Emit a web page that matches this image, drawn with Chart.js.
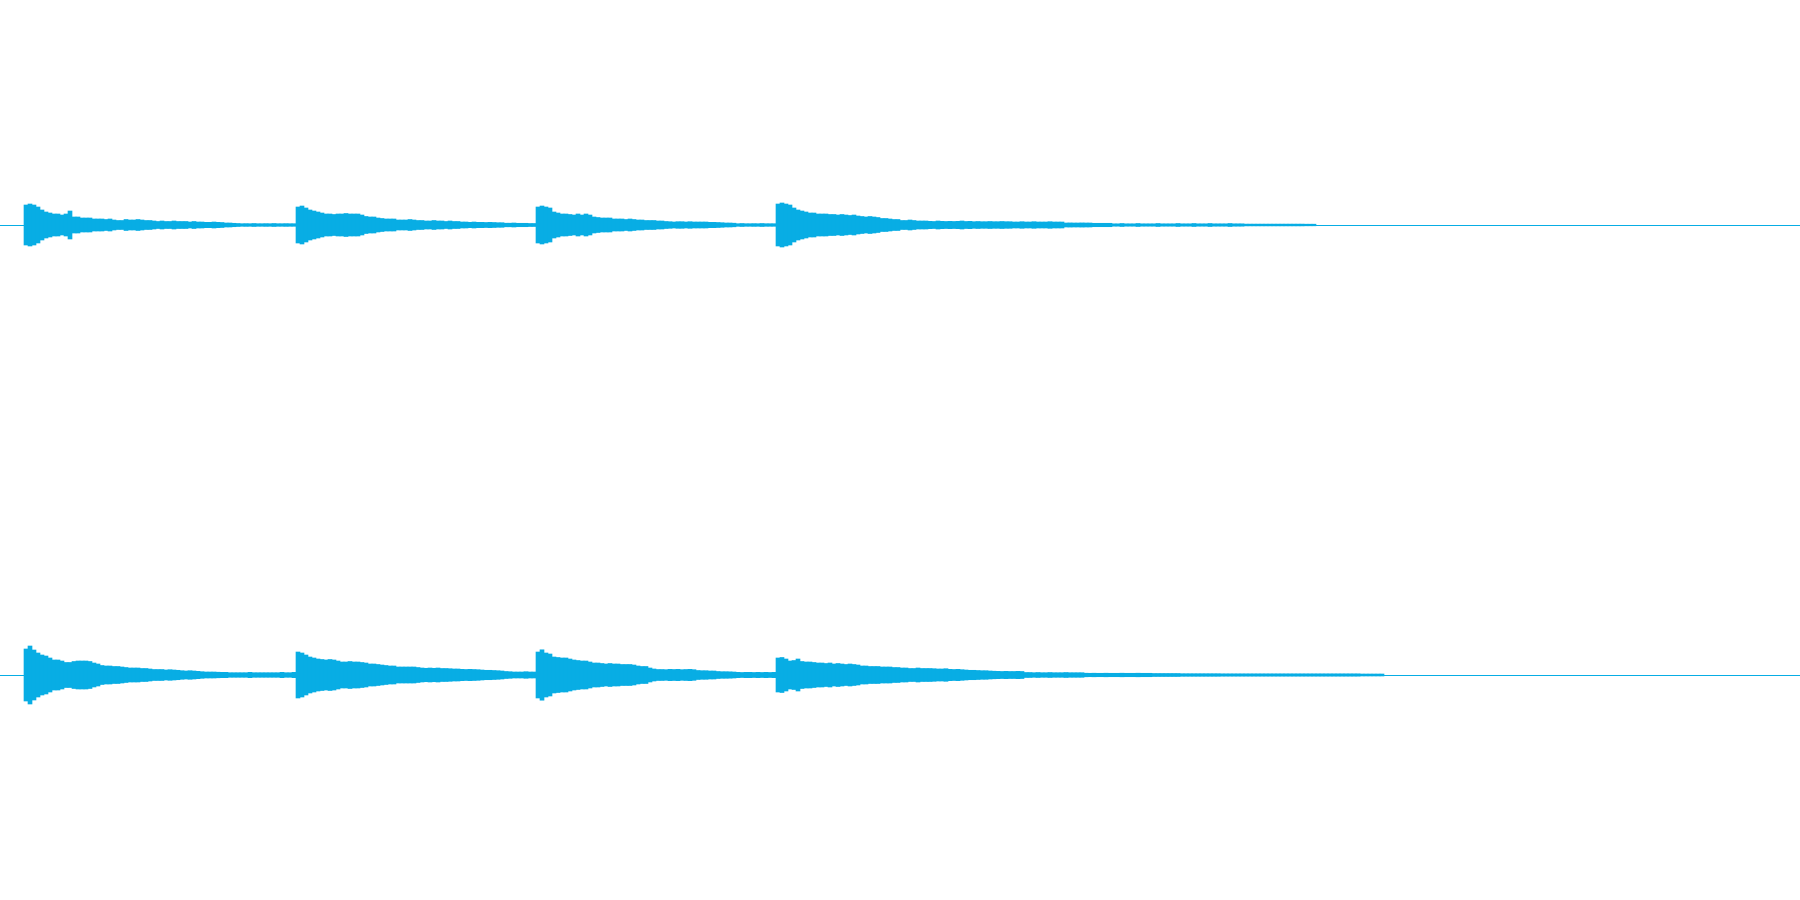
<!DOCTYPE html>
<html>
<head>
<meta charset="utf-8">
<script src="https://cdn.jsdelivr.net/npm/chart.js@4"></script>
<style>
  body { margin: 0; background: #fff; }
  canvas { display: block; }
</style>
</head>
<body>
<canvas id="left" width="1800" height="450"></canvas>
<canvas id="right" width="1800" height="450"></canvas>
<script>
// peak amplitude per column, % of full scale, 450 columns across the track
const binCount = 450
const onsets = [6, 74, 134, 194]   // column where each hit starts

const leftHit1 = [
    8.89, 9.33, 8.89, 8, 6.67, 5.78, 5.33, 4.89, 4.89, 4.44,
    4.89, 6.22, 3.56, 3.56, 3.11, 3.11, 3.11, 2.67, 2.67, 2.67,
    2.44, 2.67, 2.22, 2, 2, 2.44, 2.22, 2.22, 2.44, 2.22,
    2, 2, 1.78, 1.56, 1.78, 1.56, 1.56, 1.78, 1.56, 1.56,
    1.56, 1.33, 1.56, 1.33, 1.33, 1.2, 1.2, 1.33, 1.2, 1.11,
    0.89, 0.89, 0.76,
    0.67, 0.58, 0.62, 0.58, 0.67, 0.58, 0.58, 0.62, 0.58, 0.67, 0.58, 0.58, 0.62, 0.58, 0.58
]
const leftHit2 = [
    8, 8.44, 7.56, 6.67, 6.22, 5.78, 5.33, 4.89, 4.89, 4.67,
    4.89, 4.89, 5.11, 4.89, 4.89, 4.89, 4.44, 3.78, 3.56, 3.56,
    3.11, 2.89, 2.67, 2.67, 2.67, 2.22, 2.22, 2.22, 2.44, 2.22,
    2, 2, 1.78, 1.78, 2, 1.78, 1.78, 1.56, 1.78, 1.56,
    1.56, 1.33, 1.33, 1.2, 1.33, 1.2, 1.2, 1.11, 1.2, 1.11,
    1.02, 1.02, 0.8, 0.8, 0.89, 0.76, 0.76, 0.76, 0.67, 0.67
]
const leftHit3 = [
    8, 8.44, 8, 7.56, 5.78, 5.33, 4.89, 4.89, 4.67, 4.44,
    4.89, 4.44, 4.89, 4.44, 3.56, 3.33, 3.11, 3.11, 3.11, 2.67,
    2.67, 2.67, 2.44, 2.67, 2.44, 2.22, 2.22, 2, 2, 2,
    1.78, 1.78, 1.56, 1.47, 1.33, 1.47, 1.47, 1.33, 1.47, 1.33,
    1.33, 1.33, 1.33, 1.2, 1.2, 1.11, 1.02, 0.89, 0.89, 0.8,
    0.58, 0.67, 0.58, 0.58, 0.62, 0.58, 0.67, 0.58, 0.58, 0.58
]
const leftHit4 = [
    9.33, 9.78, 9.33, 8.89, 7.56, 6.67, 6.22, 5.78, 5.33, 5.33,
    4.89, 4.89, 4.89, 4.67, 4.67, 4.44, 4.67, 4.44, 4.22, 4.44,
    4, 3.78, 3.56, 3.78, 3.56, 3.33, 2.89, 2.89, 2.67, 2.44,
    2.44, 2, 2, 2.22, 2, 1.78, 1.78, 1.78,
    1.64, 1.56, 1.78, 1.64, 1.56, 1.64, 1.56, 1.64, 1.78, 1.56, 1.64,
    1.47, 1.56, 1.47, 1.47, 1.56, 1.47, 1.47, 1.56, 1.47, 1.47,
    1.33, 1.33, 1.47, 1.33, 1.33, 1.47, 1.33, 1.33, 1.33, 1.47, 1.33, 1.33, 1.33,
    0.89, 0.93, 0.89, 0.89, 0.93, 0.89, 0.89,
    0.76, 0.76, 0.76, 0.76, 0.76,
    0.53, 0.53, 0.67, 0.53, 0.53, 0.53, 0.67, 0.53, 0.53, 0.53, 0.53,
    0.67, 0.53, 0.53, 0.53, 0.53, 0.67, 0.53, 0.53, 0.53, 0.67, 0.53,
    0.53, 0.53, 0.67, 0.53, 0.53, 0.53, 0.53, 0.67, 0.53, 0.53, 0.53,
    0.4, 0.4, 0.4, 0.4, 0.4, 0.4, 0.4, 0.4, 0.4, 0.4, 0.4, 0.4, 0.4, 0.4, 0.4,
    0.36, 0.36, 0.36
]

const rightHit1 = [
    11.56, 12.89, 11.11, 9.78, 8.89, 8.44, 7.56, 6.67, 6.67, 6.22,
    5.56, 5.56, 6, 6.22, 6.22, 6.22, 6, 5.33, 4.89, 4.22,
    4, 4, 3.78, 3.78, 3.56, 3.33, 3.11, 3.11, 3.11, 2.89,
    2.89, 2.67, 2.44, 2.44, 2.44, 2.22, 2.36, 2.22, 2.09, 1.91,
    1.78, 1.91, 1.78, 1.64, 1.47, 1.33, 1.33, 1.33, 1.24, 1.2,
    1.2, 1.02, 1.02, 1.02, 1.02, 1.02, 1.2, 1.02, 1.02, 1.02,
    1.02, 1.02, 1.02, 1.02, 1.2, 1.02, 1.02, 1.2
]
const rightHit2 = [
    10.22, 9.78, 8.89, 8, 7.56, 7.11, 6.89, 6.67, 6.89, 6.67,
    6.22, 5.78, 5.78, 6, 5.78, 5.78, 5.56, 5.33, 4.89, 4.89,
    4.67, 4.44, 4.22, 4, 4, 3.56, 3.56, 3.56, 3.56, 3.56,
    3.33, 3.11, 2.98, 3.11, 2.98, 3.11, 2.89, 2.89, 2.8, 2.67,
    2.67, 2.53, 2.44, 2.53, 2.44, 2.36, 2.22, 2.09, 2.09, 2,
    1.91, 1.78, 1.56, 1.47, 1.33, 1.33, 1.33, 1.47, 1.33, 1.33
]
const rightHit3 = [
    10.22, 11.2, 9.78, 9.33, 8, 7.78, 7.56, 7.56, 7.11, 6.67,
    6.44, 6.22, 6.22, 5.78, 5.33, 5.33, 5.11, 4.89, 5.11, 4.89,
    4.89, 4.67, 4.67, 4.67, 4.44, 4, 3.78, 3.78, 3.11, 2.67,
    2.44, 2.44, 2.36, 2.53, 2.44, 2.53, 2.36, 2.44, 2.53, 2.36,
    2, 1.91, 1.91, 1.78, 1.78, 1.56, 1.47, 1.47, 1.42, 1.33,
    1.2, 1.11, 1.2, 1.2, 1.11, 1.2, 1.11, 1.2, 1.11, 1.2
]
const rightHit4 = [
    7.56, 7.78, 7.11, 6.22, 6.44, 7.11, 6, 5.78, 5.78, 5.56,
    5.33, 5.33, 5.11, 5.33, 4.89, 5.11, 4.89, 4.67, 4.89, 4.67,
    4.44, 4, 4, 3.78, 3.78, 3.78, 3.56, 3.56, 3.56, 3.33,
    3.33, 3.11, 3.11, 2.89, 2.89, 3.11, 2.89, 2.89, 2.89, 2.8,
    2.67, 2.67, 2.8, 2.53, 2.44, 2.53, 2.36, 2.22, 2.09, 2.09,
    2, 1.91, 1.91, 1.78, 1.69,
    1.64, 1.56, 1.64, 1.56, 1.56, 1.64, 1.56,
    1.11, 1.11, 1.02, 1.11, 1.02, 1.02, 1.11, 1.02, 1.02, 1.02, 1.11, 1.02, 1.02, 1.02, 1.02,
    0.8, 0.76, 0.8, 0.76, 0.76, 0.8, 0.76, 0.76, 0.76, 0.8, 0.76, 0.76, 0.76, 0.8, 0.76, 0.76, 0.76,
    0.67, 0.67, 0.67, 0.67, 0.67, 0.67, 0.67,
    0.58, 0.58, 0.58, 0.58, 0.58, 0.58, 0.58, 0.58, 0.58, 0.58,
    0.53, 0.53, 0.53, 0.53, 0.53, 0.53, 0.53, 0.53, 0.53, 0.53,
    0.53, 0.53, 0.53, 0.53, 0.53, 0.53, 0.53, 0.53, 0.53, 0.53,
    0.53, 0.53, 0.53, 0.53, 0.53, 0.53, 0.53, 0.53, 0.53, 0.53,
    0.53, 0.53, 0.53, 0.53, 0.53,
    0.44, 0.44, 0.44, 0.44, 0.44, 0.44
]

const waveColor = '#08ade4'
const bins = Array.from({ length: binCount }, (_, i) => i)

// place each hit at its onset column, as a floating bar [-peak, +peak]
function buildSeries(hits) {
    const out = new Array(binCount).fill(null)
    hits.forEach((amp, h) => {
        amp.forEach((a, j) => { out[onsets[h] + j] = [-a, a] })
    })
    return out
}

function drawChannel(id, hits) {
    new Chart(document.getElementById(id), {
        type: 'bar',
        data: {
            labels: bins,
            datasets: [{
                data: buildSeries(hits),
                backgroundColor: waveColor,
                borderWidth: 0,
                barPercentage: 1,
                categoryPercentage: 1
            }]
        },
        options: {
            responsive: false,
            animation: false,
            devicePixelRatio: 1,
            layout: { padding: 0 },
            plugins: {
                legend: { display: false },
                tooltip: { enabled: false }
            },
            scales: {
                x: { display: false },
                y: {
                    min: -100,
                    max: 100,
                    ticks: { display: false, stepSize: 100 },
                    border: { display: false },
                    grid: {
                        drawTicks: false,
                        lineWidth: 1,
                        color: ctx => ctx.tick.value === 0 ? waveColor : 'transparent'
                    }
                }
            }
        }
    })
}

drawChannel('left', [leftHit1, leftHit2, leftHit3, leftHit4])
drawChannel('right', [rightHit1, rightHit2, rightHit3, rightHit4])
</script>
</body>
</html>
